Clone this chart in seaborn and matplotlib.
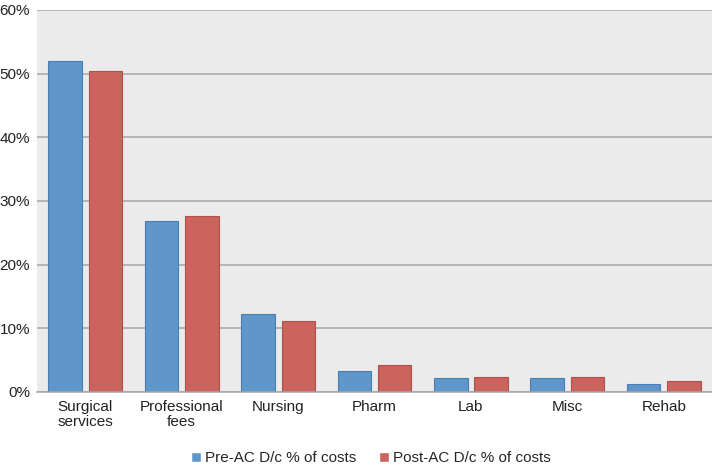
import matplotlib
matplotlib.use('Agg')
import matplotlib.pyplot as plt
import seaborn as sns
import pandas as pd
from matplotlib.ticker import PercentFormatter

# data
categories = ['Surgical\nservices', 'Professional\nfees', 'Nursing', 'Pharm', 'Lab', 'Misc', 'Rehab']
pre_ac = [52.0, 26.8, 12.3, 3.3, 2.15, 2.15, 1.2]
post_ac = [50.4, 27.7, 11.2, 4.3, 2.4, 2.3, 1.65]
series = ['Pre-AC D/c % of costs', 'Post-AC D/c % of costs']

df = pd.DataFrame({
    'category': categories * 2,
    'value': pre_ac + post_ac,
    'series': [series[0]] * len(categories) + [series[1]] * len(categories),
})

sns.set_style('white')
plt.rcParams['font.family'] = ['Liberation Sans', 'DejaVu Sans']

fig = plt.figure(figsize=(7.12, 4.7), dpi=100)
ax = fig.add_axes([0.052, 0.166, 0.948, 0.813])
ax.set_facecolor('#EBEBEB')

colors = ['#6097CB', '#CC645E']
edges = ['#4A7EB5', '#B0504A']
sns.barplot(data=df, x='category', y='value', hue='series', palette=colors,
            width=0.836, gap=0.17, ax=ax, saturation=1, legend=True)

for i, cont in enumerate(ax.containers):
    for bar in cont:
        bar.set_edgecolor(edges[i])
        bar.set_linewidth(0.8)

ax.set_ylim(0, 60)
ax.set_yticks(range(0, 61, 10))
ax.yaxis.set_major_formatter(PercentFormatter(decimals=0))
ax.grid(axis='y', color='#A6A6A6', linewidth=1.1)
ax.set_axisbelow(True)
for s in ['top', 'right', 'left']:
    ax.spines[s].set_visible(False)
ax.spines['bottom'].set_color('#A6A6A6')
ax.spines['bottom'].set_linewidth(1.1)
ax.set_xlabel('')
ax.set_ylabel('')
ax.tick_params(axis='both', length=0, labelsize=11, colors='#222222', pad=6)
ax.tick_params(axis='y', pad=5)
for lbl in ax.get_xticklabels():
    lbl.set_linespacing(1.1)

ax.legend(loc='center', bbox_to_anchor=(0.495, -0.173), ncol=2, frameon=False,
          fontsize=11, handlelength=0.6, handleheight=0.6, handletextpad=0.3,
          columnspacing=1.5)

plt.savefig('out.png', dpi=100)
plt.close()
